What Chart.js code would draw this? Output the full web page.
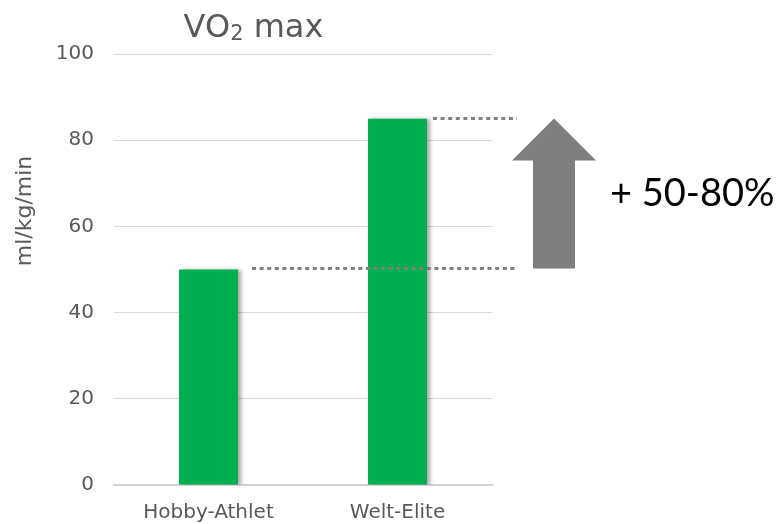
<!DOCTYPE html>
<html>
<head>
<meta charset="utf-8">
<script src="https://cdn.jsdelivr.net/npm/chart.js@4/dist/chart.umd.min.js"></script>
<style>
  html, body { margin: 0; padding: 0; background: #ffffff; }
  #wrap { width: 779px; height: 524px; position: relative; }
</style>
</head>
<body>
<div id="wrap"><canvas id="c" width="779" height="524"></canvas></div>
<script>
// ---- data ----
const categories = ['Hobby-Athlet', 'Welt-Elite'];
const vo2max = [50, 85];
const yAxisTitle = 'ml/kg/min';
const chartTitleMain = 'VO';
const chartTitleSub = '2';
const chartTitleRest = ' max';
const increaseLabel = '+ 50-80%';
const yMin = 0, yMax = 100, yStep = 20;

const GREEN = '#00b050';
const GREY_TEXT = '#595959';
const GRID = '#d9d9d9';
const ARROW = '#7f7f7f';

const textPlugin = {
  id: 'customTexts',
  afterDraw(chart) {
    const ctx = chart.ctx;
    ctx.save();
    ctx.fillStyle = GREY_TEXT;
    ctx.textBaseline = 'alphabetic';
    ctx.textAlign = 'left';
    const big = '32px "DejaVu Sans"', small = '21px "DejaVu Sans"';
    ctx.font = big; const w1 = ctx.measureText(chartTitleMain).width;
    const w3 = ctx.measureText(chartTitleRest).width;
    ctx.font = small; const w2 = ctx.measureText(chartTitleSub).width;
    const total = w1 + w2 + w3;
    let x = 253.5 - total / 2;
    const base = 37;
    ctx.font = big; ctx.fillText(chartTitleMain, x, base); x += w1;
    ctx.font = small; ctx.fillText(chartTitleSub, x, base + 3); x += w2;
    ctx.font = big; ctx.fillText(chartTitleRest, x, base);

    // y axis title (rotated)
    ctx.translate(25, 211);
    ctx.rotate(-Math.PI / 2);
    ctx.font = '22px "DejaVu Sans"';
    ctx.textAlign = 'center';
    ctx.textBaseline = 'middle';
    ctx.fillText(yAxisTitle, 0, 0);
    ctx.restore();
  }
};

const shadowPlugin = {
  id: 'barShadow',
  beforeDatasetsDraw(chart) {
    const ctx = chart.ctx;
    ctx.save();
    ctx.shadowColor = 'rgba(0,0,0,0.35)';
    ctx.shadowOffsetX = 3;
    ctx.shadowOffsetY = 0;
    ctx.shadowBlur = 4;
  },
  afterDatasetsDraw(chart) {
    chart.ctx.restore();
  }
};

const annotPlugin = {
  id: 'increaseAnnot',
  afterDraw(chart) {
    const ctx = chart.ctx;
    const ys = chart.scales.y;
    const area = chart.chartArea;
    const bars = chart.getDatasetMeta(0).data;
    const lowY = Math.round(ys.getPixelForValue(vo2max[0])) - 1.5;
    const highY = Math.round(ys.getPixelForValue(vo2max[1])) - 0.5;
    const rightEnd = area.right + 25;

    ctx.save();
    ctx.strokeStyle = '#808080';
    ctx.lineWidth = 3;
    ctx.setLineDash([4, 3.6]);
    ctx.beginPath();
    ctx.moveTo(bars[0].x + bars[0].width / 2 + 14, lowY);
    ctx.lineTo(rightEnd, lowY);
    ctx.stroke();
    ctx.beginPath();
    ctx.moveTo(bars[1].x + bars[1].width / 2 + 6, highY);
    ctx.lineTo(rightEnd, highY);
    ctx.stroke();
    ctx.setLineDash([]);

    const cx = area.right + 62;
    const tipY = highY;
    const baseY = lowY;
    const headH = 42, headHalf = 42, shaftHalf = 21;
    ctx.fillStyle = ARROW;
    ctx.beginPath();
    ctx.moveTo(cx, tipY);
    ctx.lineTo(cx + headHalf, tipY + headH);
    ctx.lineTo(cx + shaftHalf, tipY + headH);
    ctx.lineTo(cx + shaftHalf, baseY);
    ctx.lineTo(cx - shaftHalf, baseY);
    ctx.lineTo(cx - shaftHalf, tipY + headH);
    ctx.lineTo(cx - headHalf, tipY + headH);
    ctx.closePath();
    ctx.fill();

    ctx.fillStyle = '#000000';
    ctx.font = '38px Lato';
    ctx.textBaseline = 'alphabetic';
    ctx.textAlign = 'left';
    ctx.fillText(increaseLabel, area.right + 118, 206);
    ctx.restore();
  }
};

new Chart(document.getElementById('c'), {
  type: 'bar',
  data: {
    labels: categories,
    datasets: [{
      data: vo2max,
      backgroundColor: GREEN,
      borderWidth: 0,
      barPercentage: 0.312,
      categoryPercentage: 1.0
    }]
  },
  options: {
    responsive: false,
    animation: false,
    devicePixelRatio: 1,
    layout: { padding: { top: 54, right: 287, left: 0, bottom: 0 } },
    plugins: {
      legend: { display: false },
      title: { display: false },
      tooltip: { enabled: false }
    },
    scales: {
      x: {
        grid: { display: false, drawTicks: false },
        border: { display: true, color: '#d0d0d0', width: 1.5 },
        ticks: {
          color: GREY_TEXT,
          font: { family: 'DejaVu Sans', size: 20 },
          padding: 16
        },
        afterFit(scale) { scale.height = 39; }
      },
      y: {
        min: yMin,
        max: yMax,
        ticks: {
          stepSize: yStep,
          color: GREY_TEXT,
          font: { family: 'DejaVu Sans', size: 20 },
          padding: 20
        },
        grid: { color: GRID, drawTicks: false, lineWidth: 1 },
        border: { display: false },
        title: { display: false },
        afterFit(scale) { scale.width = 114; }
      }
    }
  },
  plugins: [shadowPlugin, annotPlugin, textPlugin]
});
</script>
</body>
</html>
